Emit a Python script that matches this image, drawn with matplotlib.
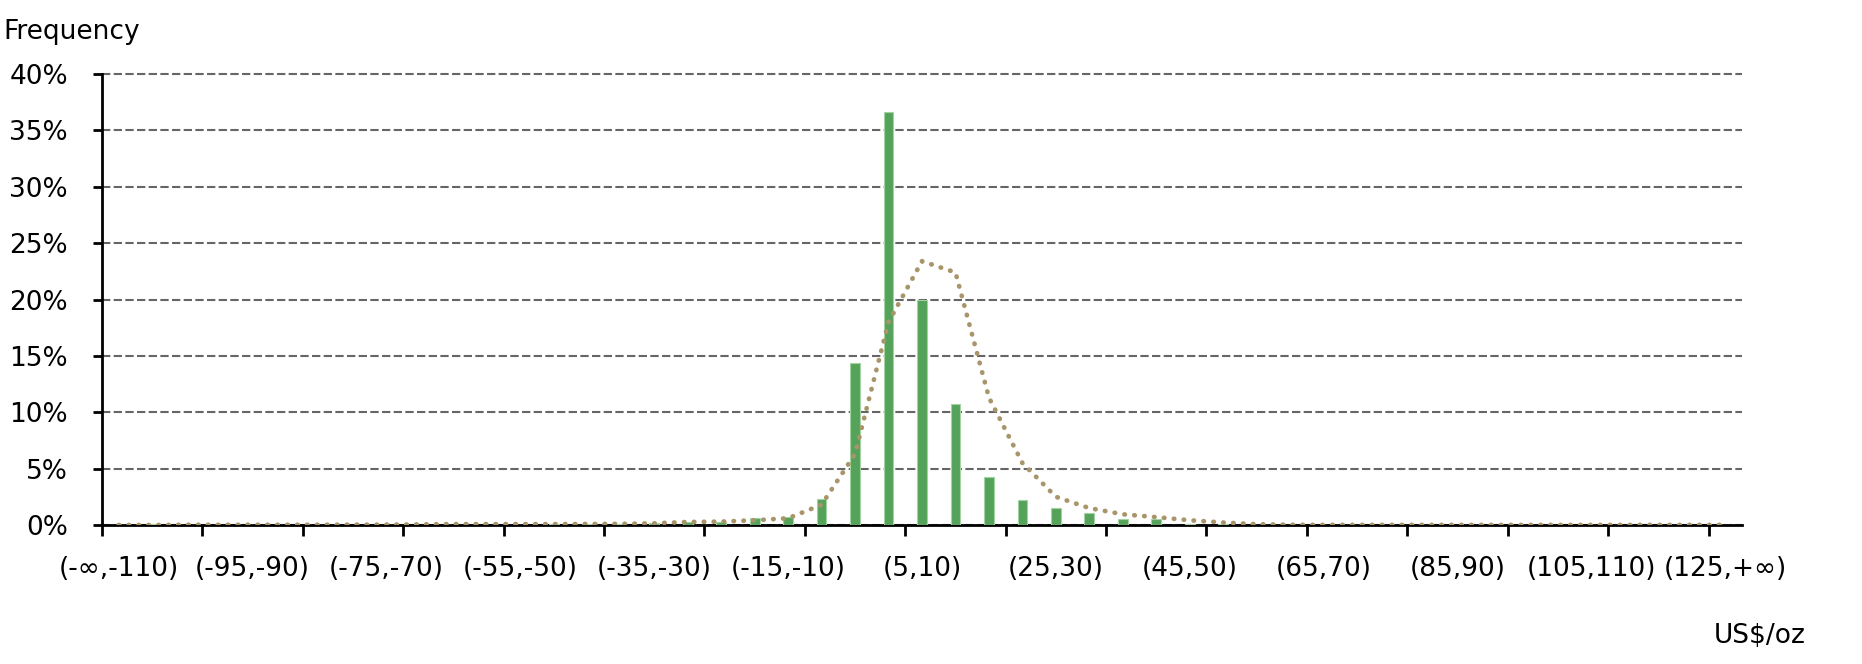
import numpy as np
import matplotlib
matplotlib.use("Agg")
import matplotlib.pyplot as plt
from matplotlib.ticker import PercentFormatter

# bins of US$/oz, one label per bin
categories = ['(-∞,-110)'] + [f'({a},{a + 5})' for a in range(-110, 125, 5)] + ['(125,+∞)']

# frequency of each bin (%)
freq = [0.02, 0.05, 0.0, 0.01, 0.01, 0.03, 0.01, 0.03, 0.03, 0.02,
        0.02, 0.03, 0.03, 0.05, 0.05, 0.08, 0.15, 0.30, 0.30, 0.60,
        0.73, 2.35, 14.35, 36.6, 20.0, 10.75, 4.25, 2.25, 1.50, 1.05,
        0.52, 0.52, 0.10, 0.05, 0.03, 0.02, 0.02, 0.01, 0.02, 0.01,
        0.03, 0.01, 0.01, 0.02, 0.01, 0.01, 0.01, 0.01, 0.02]

# fitted distribution (dotted line), %
fitted = [0.0, 0.0, 0.02, 0.02, 0.02, 0.02, 0.02, 0.03, 0.03, 0.05,
          0.08, 0.08, 0.08, 0.08, 0.09, 0.10, 0.15, 0.27, 0.30, 0.42,
          0.60, 1.80, 6.30, 18.0, 23.4, 22.4, 11.3, 5.50, 2.50, 1.50,
          0.95, 0.70, 0.42, 0.22, 0.07, 0.02, 0.01, 0.01, 0.01, 0.01,
          0.01, 0.01, 0.01, 0.01, 0.01, 0.01, 0.01, 0.01, 0.01]

y_ticks = [0, 5, 10, 15, 20, 25, 30, 35, 40]

plt.rcParams['font.family'] = ['DejaVu Sans']
W, H = 1862, 664
fig = plt.figure(figsize=(W / 100, H / 100), dpi=100)
ax = fig.add_axes([102 / W, 1 - 525 / H, (1742 - 102) / W, (525 - 74) / H])

x = np.arange(len(categories))
ax.bar(x, freq, width=0.29, color='#55a35b', edgecolor='#a3d3a3', linewidth=0.8, zorder=3)
ax.plot(x, fitted, color='#a8956a', lw=3.4, linestyle=(0, (0.1, 2.0)),
        dash_capstyle='round', zorder=4)

ax.set_xlim(-0.5, len(categories) - 0.5)
ax.set_ylim(0, 40)
ax.set_yticks(y_ticks)
ax.yaxis.set_major_formatter(PercentFormatter(xmax=100, decimals=0))
ax.yaxis.grid(True, color='#666666', linestyle=(0, (4, 1.6)), lw=1.5)
for gl in ax.get_ygridlines():
    gl.set_clip_on(False)
ax.set_axisbelow(True)

# tick marks every 3 bins, labels every 4 bins
ax.set_xticks(np.arange(-0.5, len(categories), 3))
ax.set_xticklabels([])
ax.set_xticks(x[::4], minor=True)
ax.set_xticklabels(categories[::4], minor=True)
ax.tick_params(axis='x', which='major', length=8, width=2, direction='out')
ax.tick_params(axis='x', which='minor', length=0, pad=22, labelsize=19)
ax.tick_params(axis='y', length=6.5, width=2, pad=18, labelsize=19)

for side in ['top', 'right']:
    ax.spines[side].set_visible(False)
for side in ['left', 'bottom']:
    ax.spines[side].set_linewidth(2)
    ax.spines[side].set_color('black')

fig.text(3 / W, 1 - 39 / H, 'Frequency', fontsize=19, va='baseline', ha='left')
fig.text(1714 / W, 1 - 643 / H, 'US$/oz', fontsize=19, va='baseline', ha='left')

fig.savefig('out.png', dpi=100)
